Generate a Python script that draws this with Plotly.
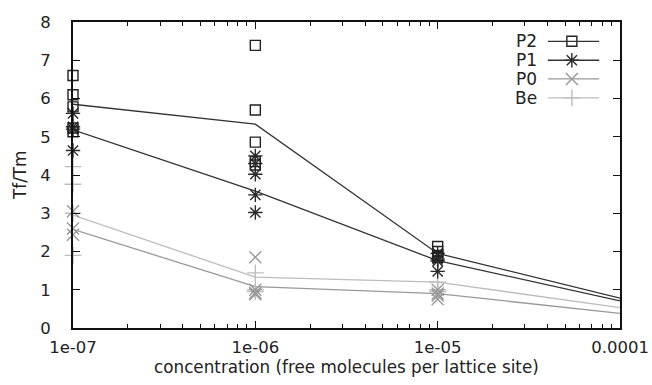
import plotly.graph_objects as go

# ---- data ----
conc = [1e-7, 1e-6, 1e-5, 1e-4]
x_ticklabels = ["1e-07", "1e-06", "1e-05", "0.0001"]
series_names = ["P2", "P1", "P0", "Be"]

# individual samples (x, y)
p2_x = [1e-7]*5 + [1e-6]*5 + [1e-5]*4 + [1e-4]*4
p2_y = [6.6, 6.1, 5.78, 5.23, 5.13, 7.39, 5.7, 4.86, 4.35, 4.26, 2.13, 2.0, 1.9, 1.85, 0.92, 0.85, 0.75, 0.7]
p1_x = [1e-7]*4 + [1e-6]*5 + [1e-5]*4 + [1e-4]*4
p1_y = [5.61, 5.26, 5.2, 4.64, 4.5, 4.3, 4.02, 3.48, 3.02, 1.95, 1.8, 1.75, 1.48, 0.8, 0.72, 0.68, 0.6]
p0_x = [1e-7]*3 + [1e-6]*4 + [1e-5]*4 + [1e-4]*4
p0_y = [3.05, 2.6, 2.44, 1.85, 1.0, 0.92, 0.88, 1.0, 0.9, 0.85, 0.75, 0.5, 0.4, 0.3, 0.25]
be_x = [1e-7]*4 + [1e-6]*3 + [1e-5]*3 + [1e-4]*2
be_y = [4.22, 3.76, 3.0, 1.9, 1.44, 1.0, 0.95, 1.2, 1.0, 0.95, 0.55, 0.45]

# averaged lines
p2_mean = [5.85, 5.33, 1.95, 0.78]
p1_mean = [5.18, 3.58, 1.76, 0.71]
p0_mean = [2.58, 1.08, 0.9, 0.38]
be_mean = [2.95, 1.33, 1.2, 0.53]

FONT = "DejaVu Sans"

# ---- style ----
styles = {
    "P2": dict(color="#222222", line="#333333", symbol="square-open", size=10),
    "P1": dict(color="#2a2a2a", line="#333333", symbol="asterisk-open", size=12),
    "P0": dict(color="#999999", line="#999999", symbol="x-thin-open", size=12),
    "Be": dict(color="#bdbdbd", line="#bdbdbd", symbol="cross-thin-open", size=12),
}
samples = {"P2": (p2_x, p2_y), "P1": (p1_x, p1_y), "P0": (p0_x, p0_y), "Be": (be_x, be_y)}
means = {"P2": p2_mean, "P1": p1_mean, "P0": p0_mean, "Be": be_mean}

fig = go.Figure()
for name in ["Be", "P0", "P1", "P2"]:
    st = styles[name]
    fig.add_trace(go.Scatter(x=conc, y=means[name], mode="lines",
                             line=dict(color=st["line"], width=1.3),
                             showlegend=False, hoverinfo="skip"))
for name in ["Be", "P0", "P1", "P2"]:
    st = styles[name]
    xs, ys = samples[name]
    fig.add_trace(go.Scatter(x=xs, y=ys, mode="markers", name=name,
                             marker=dict(symbol=st["symbol"], size=st["size"],
                                         color=st["color"],
                                         line=dict(color=st["color"], width=1.4)),
                             showlegend=False, cliponaxis=False))

# ---- gnuplot-style legend (text left, sample right) ----
leg_y = [0.937, 0.875, 0.814, 0.752]
for name, yy in zip(series_names, leg_y):
    st = styles[name]
    fig.add_annotation(x=0.852, y=yy, xref="paper", yref="paper", text=name,
                       showarrow=False, xanchor="right", yanchor="middle",
                       font=dict(family=FONT, size=17, color="#222222"))
    fig.add_shape(type="line", xref="paper", yref="paper", x0=0.868, x1=0.962,
                  y0=yy, y1=yy, line=dict(color=st["line"], width=1.3))
    fig.add_trace(go.Scatter(x=[0.912], y=[yy], xaxis="x2", yaxis="y2", mode="markers",
                             marker=dict(symbol=st["symbol"], size=st["size"],
                                         color=st["color"],
                                         line=dict(color=st["color"], width=1.4)),
                             showlegend=False, hoverinfo="skip"))

minor_vals = [m * 10**e for e in (-7, -6, -5) for m in range(2, 10)]

fig.update_layout(
    width=652, height=385,
    margin=dict(l=73, r=32, t=22, b=57, autoexpand=False),
    paper_bgcolor="white", plot_bgcolor="white",
    font=dict(family=FONT, size=16.5, color="#222222"),
    showlegend=False,
    xaxis=dict(type="log", range=[-7, -4], tickvals=conc, ticktext=x_ticklabels,
               ticks="inside", ticklen=7, tickwidth=1.3, tickcolor="#111",
               showline=True, linewidth=2, linecolor="#111", mirror="ticks",
               showgrid=False, zeroline=False, automargin=False,
               tickfont=dict(family=FONT, size=16.5, color="#222222"),
               minor=dict(tickvals=minor_vals, ticks="inside", ticklen=4,
                          tickwidth=1.2, tickcolor="#111", showgrid=False),
               ticklabelstandoff=3),
    yaxis=dict(range=[0, 8], dtick=1, ticks="inside", ticklen=7, tickwidth=1.3,
               tickcolor="#111", showline=True, linewidth=2, linecolor="#111",
               mirror="ticks", showgrid=False, zeroline=False, automargin=False,
               tickfont=dict(family=FONT, size=16.5, color="#222222"),
               ticklabelstandoff=17),
    xaxis2=dict(overlaying="x", range=[0, 1], visible=False),
    yaxis2=dict(overlaying="y", range=[0, 1], visible=False),
)
fig.add_annotation(x=0.5, y=-0.129, xref="paper", yref="paper", yanchor="middle",
                   text="concentration (free molecules per lattice site)",
                   showarrow=False, font=dict(family=FONT, size=16.8, color="#222222"))
fig.add_annotation(x=-0.097, y=0.5, xref="paper", yref="paper", textangle=-90,
                   xanchor="center", yanchor="middle",
                   text="Tf/Tm", showarrow=False, font=dict(family=FONT, size=16.8, color="#222222"))

fig.write_html("out.html")
